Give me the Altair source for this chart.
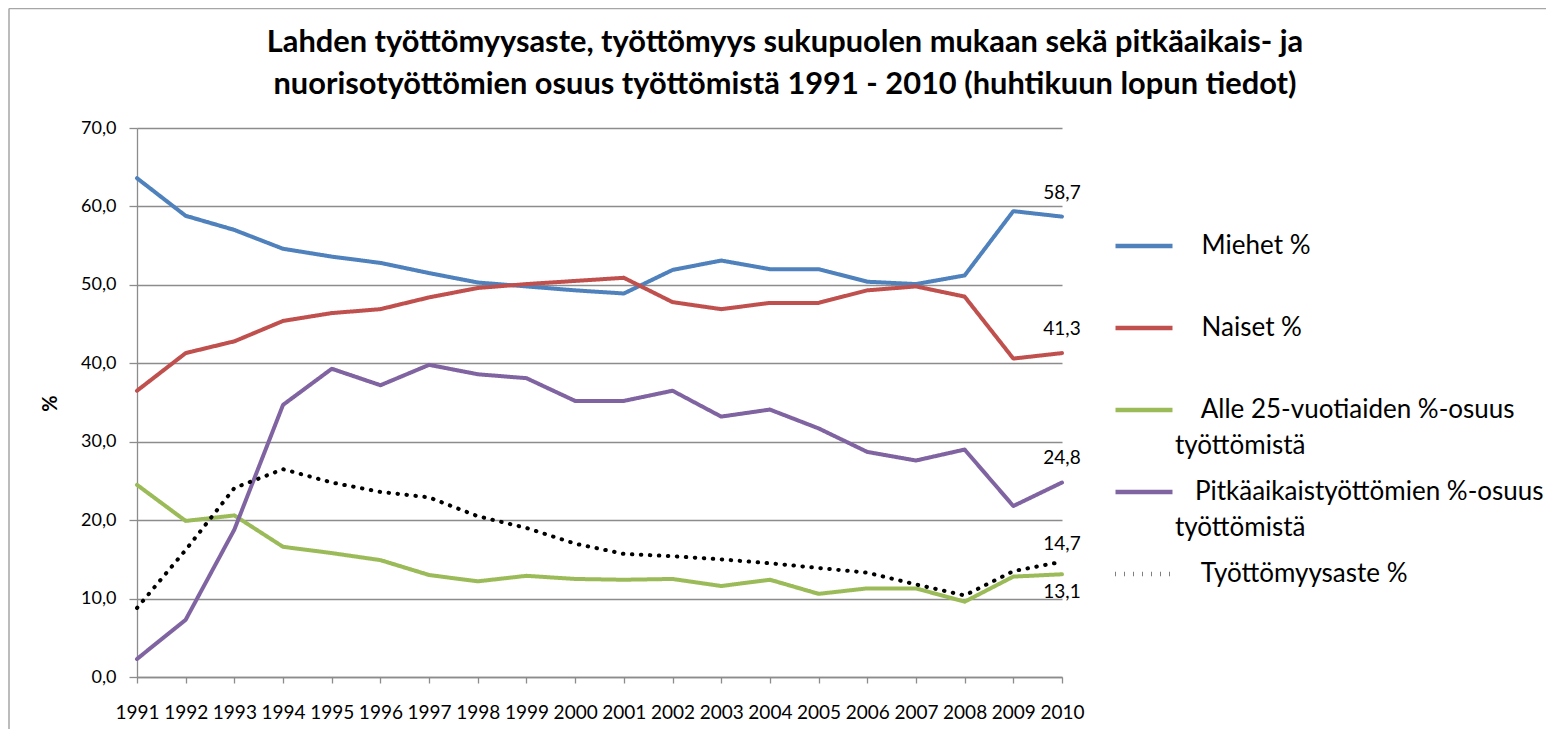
import altair as alt
import pandas as pd

years = list(range(1991, 2011))
series_names = [
    "Miehet %",
    "Naiset %",
    "Alle 25-vuotiaiden %-osuus työttömistä",
    "Pitkäaikaistyöttömien %-osuus työttömistä",
    "Työttömyysaste %",
]
miehet = [63.6, 58.8, 57.0, 54.6, 53.6, 52.8, 51.5, 50.3, 49.8, 49.3, 48.9, 51.9, 53.1, 52.0, 52.0, 50.4, 50.1, 51.2, 59.4, 58.7]
naiset = [36.5, 41.3, 42.8, 45.4, 46.4, 46.9, 48.4, 49.6, 50.1, 50.5, 50.9, 47.8, 46.9, 47.7, 47.7, 49.3, 49.8, 48.5, 40.6, 41.3]
alle25 = [24.5, 19.9, 20.6, 16.6, 15.8, 14.9, 13.0, 12.2, 12.9, 12.5, 12.4, 12.5, 11.6, 12.4, 10.6, 11.3, 11.3, 9.6, 12.8, 13.1]
pitka = [2.3, 7.3, 18.8, 34.7, 39.3, 37.2, 39.8, 38.6, 38.1, 35.2, 35.2, 36.5, 33.2, 34.1, 31.7, 28.7, 27.6, 29.0, 21.8, 24.8]
tyott = [8.8, 16.2, 24.1, 26.5, 24.8, 23.6, 22.9, 20.5, 19.0, 17.0, 15.7, 15.4, 15.0, 14.5, 13.9, 13.3, 11.8, 10.4, 13.5, 14.7]
y_ticks = [0, 10, 20, 30, 40, 50, 60, 70]
title_lines = [
    "Lahden työttömyysaste,  työttömyys sukupuolen mukaan sekä pitkäaikais- ja",
    "nuorisotyöttömien osuus työttömistä 1991 - 2010 (huhtikuun lopun tiedot)",
]
IND4 = "\u200b\u00a0\u00a0\u00a0\u00a0"
IND3 = "\u200b\u00a0\u00a0\u00a0"
legend_lines = {
    "Miehet %": [IND4 + "Miehet %", ""],
    "Naiset %": [IND4 + "Naiset %", ""],
    "Alle 25-vuotiaiden %-osuus työttömistä": [IND4 + "Alle 25-vuotiaiden %-osuus", "työttömistä"],
    "Pitkäaikaistyöttömien %-osuus työttömistä": [IND3 + "Pitkäaikaistyöttömien %-osuus", "työttömistä"],
    "Työttömyysaste %": [IND4 + "Työttömyysaste %", ""],
}
colors = ["#4F81BD", "#C0504D", "#9BBB59", "#8064A2", "#000000"]
dashes = [[1, 0], [1, 0], [1, 0], [1, 0], [0.5, 8.5]]

rows = []
for name, vals in zip(series_names, [miehet, naiset, alle25, pitka, tyott]):
    for yr, v in zip(years, vals):
        rows.append({"Vuosi": yr, "Sarja": name, "Arvo": v})
df = pd.DataFrame(rows)

def js_str(s):
    return "'" + s.replace("'", "\\'") + "'"

label_expr = ""
for name in series_names:
    l1, l2 = legend_lines[name]
    label_expr += f"datum.label == {js_str(name)} ? [{js_str(l1)}, {js_str(l2)}] : "
label_expr += "datum.label"

FONT = "Lato"
GRID = "#8C8C8C"
BORDER = "#A6A6A6"

x_enc = alt.X("Vuosi:Q", scale=alt.Scale(domain=[1991, 2010], nice=False, zero=False),
              axis=alt.Axis(values=years, format="d", grid=False, tickSize=6, tickColor=GRID,
                            domainColor=GRID, domainWidth=1.3, tickWidth=1.3,
                            labelFont=FONT, labelFontSize=19, labelColor="#000000",
                            labelPadding=20, labelFlush=False, labelOverlap=False, title=None))
y_enc = alt.Y("Arvo:Q", scale=alt.Scale(domain=[0, 70], nice=False),
              axis=alt.Axis(values=y_ticks, labelExpr="replace(format(datum.value, '.1f'), '.', ',')",
                            grid=True, gridColor=GRID, gridWidth=1.3, domainColor=GRID, domainWidth=1.3,
                            tickColor=GRID, tickWidth=1.3, tickSize=8, labelPadding=13,
                            labelFont=FONT, labelFontSize=18, labelColor="#000000",
                            title="%", titleFont=FONT, titleFontSize=20, titleFontWeight="bold",
                            titleColor="#000000", titleX=-77, titleY=275))

base = alt.Chart(df)

lines = base.mark_line(strokeWidth=4, strokeJoin="round", strokeCap="round").encode(
    x=x_enc,
    y=y_enc,
    color=alt.Color("Sarja:N", sort=series_names,
                    scale=alt.Scale(domain=series_names, range=colors),
                    legend=alt.Legend(title=None, orient="none", legendX=976, legendY=87,
                                      symbolType="stroke", symbolSize=3249,
                                      symbolStrokeWidth=4.5, labelFont=FONT, labelFontSize=26,
                                      labelColor="#000000", labelLimit=0, labelOffset=0,
                                      labelBaseline="middle", rowPadding=2,
                                      labelExpr=label_expr)),
    strokeDash=alt.StrokeDash("Sarja:N", sort=series_names,
                              scale=alt.Scale(domain=series_names, range=dashes), legend=None),
)

label_base = base.transform_filter(alt.datum.Vuosi == 2010).transform_calculate(
    teksti="replace(format(datum.Arvo, '.1f'), '.', ',')"
)
above = label_base.transform_filter(
    alt.FieldOneOfPredicate(field="Sarja", oneOf=[series_names[0], series_names[1], series_names[3]])
).mark_text(font=FONT, fontSize=19, color="#000000", dy=-24).encode(x="Vuosi:Q", y="Arvo:Q", text="teksti:N")
above2 = label_base.transform_filter(alt.datum.Sarja == series_names[4]).mark_text(
    font=FONT, fontSize=19, color="#000000", dy=-18).encode(x="Vuosi:Q", y="Arvo:Q", text="teksti:N")
below = label_base.transform_filter(alt.datum.Sarja == series_names[2]).mark_text(
    font=FONT, fontSize=19, color="#000000", dy=18).encode(x="Vuosi:Q", y="Arvo:Q", text="teksti:N")

one = alt.Data(values=[{}])
border_top = alt.Chart(one).mark_rule(stroke=BORDER, strokeWidth=1.5).encode(
    x=alt.value(-128), x2=alt.value(1500), y=alt.value(-119.5))
border_left = alt.Chart(one).mark_rule(stroke=BORDER, strokeWidth=1.5).encode(
    x=alt.value(-128), y=alt.value(-119.5), y2=alt.value(700))

title = alt.Chart(one).mark_text(
    text=title_lines, font=FONT, fontSize=30.8, fontWeight="bold", color="#000000",
    align="center", baseline="middle", lineHeight=42
).encode(x=alt.value(648), y=alt.value(-85))

chart = alt.layer(border_top, border_left, title, lines, above, above2, below).properties(
    width=925,
    height=549,
    autosize=alt.AutoSizeParams(type="none"),
    padding={"left": 129, "top": 120, "right": 484, "bottom": 52},
).configure(
    background="white",
    style={"guide-label": {"lineHeight": 36}},
).configure_view(strokeOpacity=0)

chart.save("out.html", embed_options={"renderer": "svg", "actions": False})
